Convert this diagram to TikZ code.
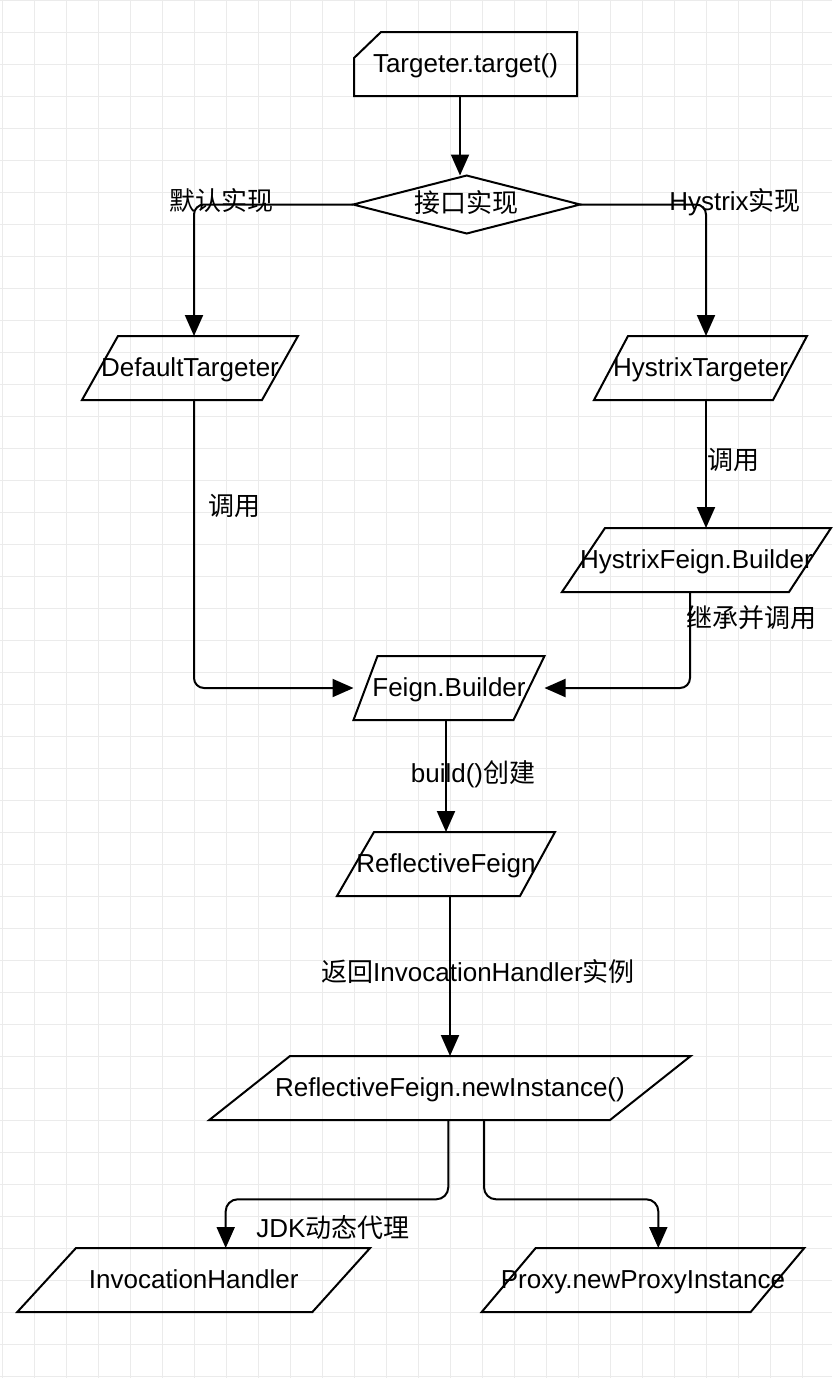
\documentclass[tikz,border=0pt]{standalone}
\usepackage{fontspec}
\setmainfont{Liberation Sans}
\newfontfamily\cjk{Noto Sans CJK SC}
\usetikzlibrary{arrows.meta,calc}
\definecolor{gridc}{RGB}{235,235,235}
\newcommand\drawpara[3]{%
  \draw[shp] ($(#1.north west)+(#2,0)$) -- (#1.north east) -- ($(#1.south east)+(-#3,0)$) -- (#1.south west) -- cycle;}
\begin{document}
\begin{tikzpicture}[x=0.5pt,y=-0.5pt,
  font=\fontsize{13pt}{15.6pt}\selectfont,
  shp/.style={draw=black, line width=1pt, line join=miter},
  box/.style={inner sep=0pt, outer sep=0pt, minimum height=32pt, text height=0.83em, text depth=0pt},
  lbl/.style={inner sep=0pt, text height=0.83em, text depth=0pt},
  conn/.style={draw=black, line width=1pt, rounded corners=5pt, -{Triangle[length=10.5pt,width=9pt]}},
  gridline/.style={draw=gridc, line width=0.5pt}]
\useasboundingbox (0,0) rectangle (832,1378);
\fill[white] (0,0) rectangle (832,1378);
% grid
\foreach \k in {0,...,25} \draw[gridline] (2.7+32*\k,0) -- (2.7+32*\k,1378);
\foreach \k in {0,...,43} \draw[gridline] (0,0.3+32*\k) -- (832,0.3+32*\k);

% nodes
\node[box, minimum width=111.5pt] (card) at (465.5,64) {Targeter.target()};
\node[box, minimum width=113.5pt, minimum height=29pt] (dia) at (466.7,204.5) {\cjk 接口实现};
\node[box, minimum width=108pt] (dt) at (190,368) {DefaultTargeter};
\node[box, minimum width=106.5pt] (ht) at (700.5,368) {HystrixTargeter};
\node[box, minimum width=134.5pt] (hfb) at (696.5,560) {HystrixFeign.Builder};
\node[box, minimum width=95.5pt] (fb) at (449,688) {Feign.Builder};
\node[box, minimum width=109pt] (rf) at (446,864) {ReflectiveFeign};
\node[box, minimum width=240.7pt] (ni) at (450,1088) {ReflectiveFeign.newInstance()};
\node[box, minimum width=176.4pt] (ih) at (193.7,1280) {InvocationHandler};
\node[box, minimum width=161.3pt] (px) at (643,1280) {Proxy.newProxyInstance};

% shapes
\draw[shp] ($(card.north west)+(27,0)$) -- (card.north east) -- (card.south east) -- (card.south west) -- ($(card.north west)+(0,26)$) -- cycle;
\draw[shp] (dia.west) -- (dia.north) -- (dia.east) -- (dia.south) -- cycle;
\drawpara{dt}{36}{36}
\drawpara{ht}{34}{34}
\drawpara{hfb}{43}{42}
\drawpara{fb}{24}{31}
\drawpara{rf}{37}{35}
\drawpara{ni}{80.7}{80.7}
\drawpara{ih}{58.7}{57.7}
\drawpara{px}{54}{53.6}

% connector end points
\coordinate (c1) at ($(card.south)+(-5.5,0)$);
\coordinate (c2) at ($(dt.north)+(4,0)$);
\coordinate (c3) at ($(ht.north)+(5.5,0)$);
\coordinate (c4) at ($(ht.south)+(5.5,0)$);
\coordinate (c5) at ($(hfb.south)+(-6.5,0)$);
\coordinate (c6) at ($(dt.south)+(4,0)$);
\coordinate (c7) at ($(fb.south)+(-3,0)$);
\coordinate (c8) at ($(ni.south)+(-1.7,0)$);
\coordinate (c9) at ($(ih.north)+(32,0)$);
\coordinate (c10) at ($(ni.south)+(34,0)$);
\coordinate (c11) at ($(px.north)+(15.3,0)$);

% connectors
\draw[conn] (c1) -- (c1 |- dia.north);
\draw[conn] (dia.west) -| (c2);
\draw[conn] (dia.east) -| (c3);
\draw[conn] (c4) -- (c4 |- hfb.north);
\draw[conn] (c5) |- (fb.east);
\draw[conn] (c6) |- (fb.west);
\draw[conn] (c7) -- (c7 |- rf.north);
\draw[conn] (ni.north |- rf.south) -- (ni.north);
\draw[conn, rounded corners=6pt] (c8) -- ++(0,79.3) -| (c9);
\draw[conn, rounded corners=6pt] (c10) -- ++(0,79.3) -| (c11);

% labels
\node[lbl] (l1) at (221.7,201.7) {\cjk 默认实现};
\node[lbl] (l2) at (735,201.7) {Hystrix{\cjk 实现}};
\node[lbl] (l3) at (733,461) {\cjk 调用};
\node[lbl] (l4) at (234.7,507) {\cjk 调用};
\node[lbl] (l5) at (751.7,619) {\cjk 继承并调用};
\node[lbl] (l6) at (473,774) {build(){\cjk 创建}};
\node[lbl] (l7) at (478,973) {{\cjk 返回}InvocationHandler{\cjk 实例}};
\node[lbl] (l8) at (333,1229) {JDK{\cjk 动态代理}};
\end{tikzpicture}
\end{document}
